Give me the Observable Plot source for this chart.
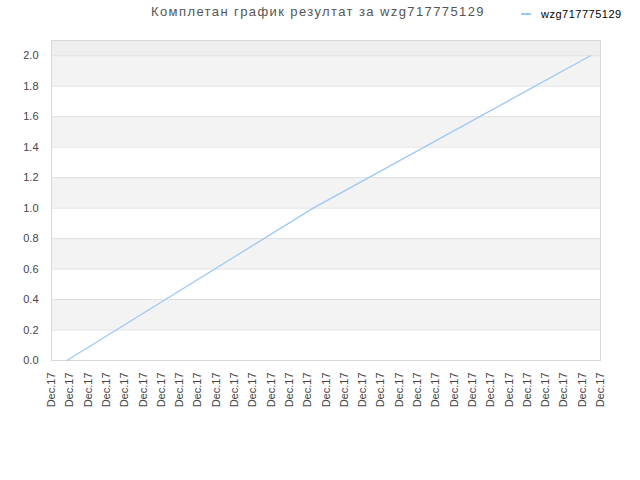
<!DOCTYPE html>
<html>
<head>
<meta charset="utf-8">
<script src="https://cdn.jsdelivr.net/npm/d3@7"></script>
<script src="https://cdn.jsdelivr.net/npm/@observablehq/plot@0.6"></script>
<style>
  html, body { margin: 0; padding: 0; background: #fff; }
  #wrap { position: relative; width: 640px; height: 480px; font-family: "Liberation Sans", Arial, sans-serif; }
  #title { position: absolute; left: 0; width: 636px; top: 4px; text-align: center; font-size: 13px; color: #555; letter-spacing: 1.4px; }
  #legend { position: absolute; left: 521px; top: 8px; font-size: 11px; color: #000; display: flex; align-items: center; letter-spacing: 0.5px; }
  #legend .sw { width: 10px; height: 0; border-top: 2px solid #99c8f5; margin-right: 10px; }
  #chart { position: absolute; left: 0; top: 0; }
</style>
</head>
<body>
<div id="wrap">
  <div id="chart"></div>
  <div id="title"></div>
  <div id="legend"><span class="sw"></span><span id="legtext"></span></div>
</div>
<script>
// Data
const titleText = "Комплетан график резултат за wzg717775129";
const seriesName = "wzg717775129";
const tickLabel = "Dec.17";
const xTicks = d3.range(0, 31);            // 31 date tick positions, all labelled "Dec.17"
const xValues = [0.84, 14.3, 29.45];       // positions of the series points along the date axis
const yValues = [0, 1.0, 2.0];             // series values
const yTicks = [0, 0.2, 0.4, 0.6, 0.8, 1.0, 1.2, 1.4, 1.6, 1.8, 2.0];
const shadedBandStarts = [0.2, 0.6, 1.0, 1.4, 1.8];
const bandHeight = 0.2;
const yMax = 2.1;

document.getElementById("title").textContent = titleText;
document.getElementById("legtext").textContent = seriesName;

const points = xValues.map((x, i) => ({x, y: yValues[i]}));
const bands = shadedBandStarts.map(s => ({y1: s, y2: s + bandHeight}));
const topBand = [{y1: 2.0, y2: yMax}];

const chart = Plot.plot({
  width: 640,
  height: 480,
  marginLeft: 51,
  marginRight: 40,
  marginTop: 40,
  marginBottom: 120,
  style: {fontFamily: "Liberation Sans, Arial, sans-serif", fontSize: "11px", color: "#444", background: "transparent"},
  x: {domain: [0, 30]},
  y: {domain: [0, yMax]},
  marks: [
    Plot.rectY(bands, {x1: 0, x2: 30, y1: "y1", y2: "y2", fill: "#f3f3f3"}),
    Plot.rectY(topBand, {x1: 0, x2: 30, y1: "y1", y2: "y2", fill: "#eeeeee"}),
    Plot.ruleY(yTicks, {stroke: "#e0e0e0", strokeWidth: 1}),
    Plot.frame({stroke: "#d9d9d9"}),
    Plot.axisY({ticks: yTicks, tickFormat: d3.format(".1f"), tickSize: 0, tickPadding: 13, label: null, fill: "#444"}),
    Plot.axisX({ticks: xTicks, tickFormat: () => tickLabel, tickRotate: -90, tickSize: 0, tickPadding: 12, label: null, fill: "#444"}),
    Plot.line(points, {x: "x", y: "y", stroke: "#99c8f5", strokeWidth: 1.2})
  ]
});
document.getElementById("chart").appendChild(chart);
</script>
</body>
</html>
